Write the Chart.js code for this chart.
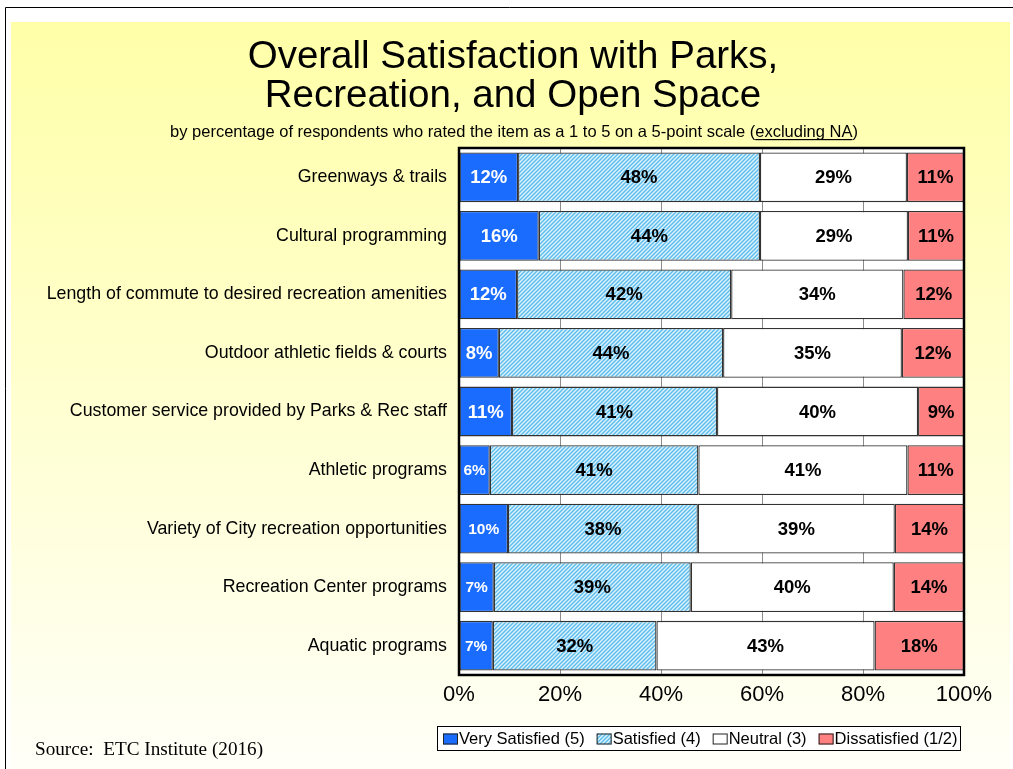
<!DOCTYPE html>
<html><head><meta charset="utf-8">
<script src="https://cdn.jsdelivr.net/npm/chart.js@4.4.1/dist/chart.umd.min.js"></script>
<style>html,body{margin:0;padding:0;background:#fff;overflow:hidden}#wrap{width:1013px;height:769px;position:relative}</style>
</head><body><div id="wrap"><canvas id="c" width="1013" height="769"></canvas></div>
<script>
// ---- data ----
const categories = [
  'Greenways & trails',
  'Cultural programming',
  'Length of commute to desired recreation amenities',
  'Outdoor athletic fields & courts',
  'Customer service provided by Parks & Rec staff',
  'Athletic programs',
  'Variety of City recreation opportunities',
  'Recreation Center programs',
  'Aquatic programs'
];
const seriesNames = ['Very Satisfied (5)', 'Satisfied (4)', 'Neutral (3)', 'Dissatisfied (1/2)'];
const verySatisfied = [11.7, 15.8, 11.5, 7.9, 10.5, 6.1, 9.7, 6.9, 6.7];
const satisfied     = [47.9, 43.8, 42.4, 44.4, 40.6, 41.3, 37.6, 39.0, 32.4];
const neutral       = [29.1, 29.3, 34.1, 35.4, 39.8, 41.4, 39.0, 40.2, 43.2];
const dissatisfied  = [11.3, 11.1, 12.0, 12.3, 9.1, 11.2, 13.7, 13.9, 17.7];
const xTicks = [0, 20, 40, 60, 80, 100];
const titleLines = ['Overall Satisfaction with Parks,', 'Recreation, and Open Space'];
const subtitleMain = 'by percentage of respondents who rated the item as a 1 to 5 on a 5-point scale (';
const subtitleUnder = 'excluding NA';
const subtitleEnd = ')';
const sourceText = 'Source:  ETC Institute (2016)';

// ---- styles ----
const FONT = 'Arial, "Liberation Sans", Helvetica, sans-serif';
const SERIF = '"Times New Roman", "Liberation Serif", serif';

function makeHatch() {
  const s = 4;
  const c = document.createElement('canvas');
  c.width = s; c.height = s;
  const g = c.getContext('2d');
  g.fillStyle = '#dcf2fc';
  g.fillRect(0, 0, s, s);
  g.strokeStyle = '#5cbcec';
  g.lineWidth = 1.4;
  g.beginPath();
  g.moveTo(0, s); g.lineTo(s, 0);
  g.moveTo(-1, 1); g.lineTo(1, -1);
  g.moveTo(s - 1, s + 1); g.lineTo(s + 1, s - 1);
  g.stroke();
  return document.getElementById('c').getContext('2d').createPattern(c, 'repeat');
}
const hatch = makeHatch();
const fills = ['#1a6cff', hatch, '#ffffff', '#ff8080'];
const labelColors = ['#ffffff', '#000000', '#000000', '#000000'];
const seriesData = [verySatisfied, satisfied, neutral, dissatisfied];

const backgroundPlugin = {
  id: 'bg',
  beforeDraw(chart) {
    const ctx = chart.ctx;
    ctx.save();
    ctx.fillStyle = '#ffffff';
    ctx.fillRect(0, 0, chart.width, chart.height);
    const grad = ctx.createLinearGradient(0, 22, 0, 769);
    grad.addColorStop(0, '#ffffa8');
    grad.addColorStop(1, '#fffff8');
    ctx.fillStyle = grad;
    ctx.fillRect(11, 22, 999, 747);
    ctx.strokeStyle = '#000';
    ctx.lineWidth = 1;
    ctx.beginPath();
    ctx.moveTo(5.5, 780); ctx.lineTo(5.5, 7.5); ctx.lineTo(1020, 7.5);
    ctx.stroke();
    const a = chart.chartArea;
    ctx.fillStyle = '#ffffff';
    ctx.fillRect(a.left, a.top, a.right - a.left, a.bottom - a.top);
    ctx.restore();
  },
  afterDraw(chart) {
    const ctx = chart.ctx;
    const a = chart.chartArea;
    ctx.save();
    ctx.strokeStyle = '#000';
    ctx.lineWidth = 2.5;
    ctx.strokeRect(a.left, a.top, a.right - a.left, a.bottom - a.top);

    // data labels
    ctx.textAlign = 'center';
    ctx.textBaseline = 'middle';
    chart.data.datasets.forEach((ds, di) => {
      const meta = chart.getDatasetMeta(di);
      meta.data.forEach((bar, i) => {
        const v = ds.data[i];
        const txt = Math.round(v) + '%';
        const x0 = Math.min(bar.x, bar.base), x1 = Math.max(bar.x, bar.base);
        const w = x1 - x0;
        ctx.font = 'bold 18.5px ' + FONT;
        const tw = ctx.measureText(txt).width;
        if (tw / w > 0.725) ctx.font = 'bold 15.5px ' + FONT;
        ctx.fillStyle = labelColors[di];
        ctx.fillText(txt, (x0 + x1) / 2, bar.y + 1);
      });
    });

    // title
    ctx.fillStyle = '#000';
    ctx.textBaseline = 'alphabetic';
    ctx.textAlign = 'center';
    ctx.font = '38.5px ' + FONT;
    ctx.fillText(titleLines[0], 513, 68);
    ctx.fillText(titleLines[1], 513, 107);

    // subtitle with underline
    ctx.font = '16.5px ' + FONT;
    const w1 = ctx.measureText(subtitleMain).width;
    const w2 = ctx.measureText(subtitleUnder).width;
    const w3 = ctx.measureText(subtitleEnd).width;
    const sx = 514 - (w1 + w2 + w3) / 2;
    const sy = 137;
    ctx.textAlign = 'left';
    ctx.fillText(subtitleMain, sx, sy);
    ctx.fillText(subtitleUnder, sx + w1, sy);
    ctx.fillText(subtitleEnd, sx + w1 + w2, sy);
    ctx.fillRect(sx + w1, sy + 2, w2, 1.2);

    // legend
    const lx0 = 437, ly0 = 726, lx1 = 961, ly1 = 751;
    ctx.fillStyle = '#ffffff';
    ctx.fillRect(lx0, ly0, lx1 - lx0, ly1 - ly0);
    ctx.strokeStyle = '#000';
    ctx.lineWidth = 1;
    ctx.strokeRect(lx0 + 0.5, ly0 + 0.5, lx1 - lx0 - 1, ly1 - ly0 - 1);
    ctx.font = '16.5px ' + FONT;
    ctx.textBaseline = 'middle';
    let lx = 443;
    const lyc = (ly0 + ly1) / 2 + 0.5;
    seriesNames.forEach((name, i) => {
      ctx.fillStyle = fills[i];
      ctx.fillRect(lx, lyc - 5.5, 15, 11);
      ctx.strokeStyle = '#222';
      ctx.lineWidth = 1;
      ctx.strokeRect(lx + 0.5, lyc - 5, 14, 10);
      ctx.fillStyle = '#000';
      ctx.fillText(name, lx + 16, lyc);
      lx += 16 + ctx.measureText(name).width + 12;
    });

    // source
    ctx.font = '19.2px ' + SERIF;
    ctx.textBaseline = 'alphabetic';
    ctx.fillStyle = '#000';
    ctx.fillText(sourceText, 35, 755);
    ctx.restore();
  }
};

new Chart(document.getElementById('c'), {
  type: 'bar',
  data: {
    labels: categories,
    datasets: seriesNames.map((n, i) => ({
      label: n,
      data: seriesData[i],
      backgroundColor: fills[i],
      borderColor: '#333333',
      borderWidth: 1.3,
      borderSkipped: false,
      barPercentage: 0.85,
      categoryPercentage: 1.0
    }))
  },
  options: {
    indexAxis: 'y',
    responsive: false,
    animation: false,
    devicePixelRatio: 1,
    layout: { padding: { left: 10, right: 49, top: 148, bottom: 54 } },
    plugins: {
      legend: { display: false },
      title: { display: false },
      tooltip: { enabled: false }
    },
    scales: {
      x: {
        stacked: true,
        min: 0, max: 100,
        afterBuildTicks(s) { s.ticks = xTicks.map(v => ({ value: v })); },
        afterFit(s) { s.height = 40; },
        ticks: {
          callback: v => v + '%',
          color: '#000',
          font: { family: FONT, size: 22 },
          padding: 7,
          maxRotation: 0
        },
        grid: { color: '#8c8c8c', lineWidth: 1, drawTicks: false },
        border: { display: false }
      },
      y: {
        stacked: true,
        afterFit(s) { s.width = 449; },
        ticks: {
          color: '#000',
          font: { family: FONT, size: 17.8 },
          padding: 12
        },
        grid: { display: false, drawTicks: false },
        border: { display: false }
      }
    }
  },
  plugins: [backgroundPlugin]
});
</script>
</body></html>
